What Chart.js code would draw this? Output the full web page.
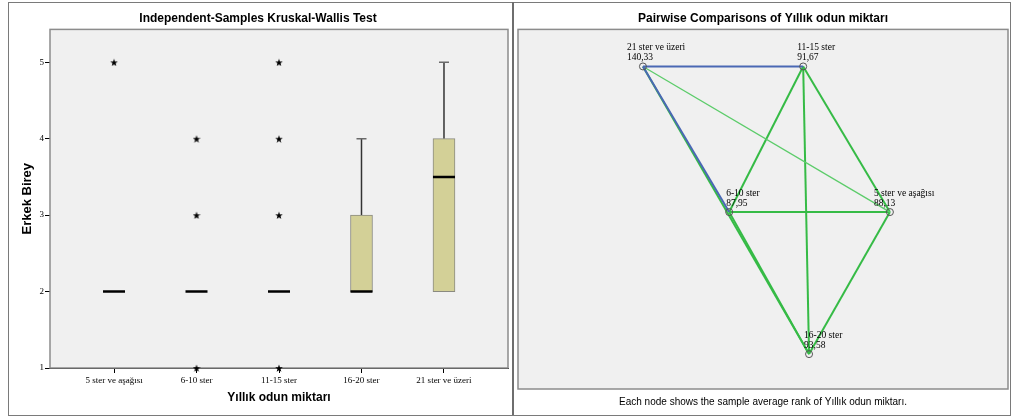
<!DOCTYPE html>
<html>
<head>
<meta charset="utf-8">
<title>Kruskal-Wallis</title>
<script src="https://cdn.jsdelivr.net/npm/chart.js"></script>
<style>
  body { margin: 0; background: #fff; }
  #wrap { position: relative; width: 1011px; height: 420px; overflow: hidden; }
  canvas { position: absolute; top: 0; }
  .frame { position: absolute; border: 1px solid #7a7a7a; pointer-events: none; }
  .divider { position: absolute; background: #6e6e6e; pointer-events: none; }
</style>
</head>
<body>
<div id="wrap">
  <canvas id="box" width="512" height="420" style="left:0"></canvas>
  <canvas id="pairs" width="499" height="420" style="left:512px"></canvas>
  <div class="frame" style="left:8px;top:2px;width:1001px;height:412px"></div>
  <div class="divider" style="left:512px;top:2px;width:2px;height:413px"></div>
</div>
<script>
// boxplot data (Erkek Birey by Yıllık odun miktarı)
const categories = ['5 ster ve aşağısı', '6-10 ster', '11-15 ster', '16-20 ster', '21 ster ve üzeri'];
const q1 = [2, 2, 2, 2, 2];
const q3 = [2, 2, 2, 3, 4];
const medians = [2, 2, 2, 2, 3.5];
const whiskerLow = [2, 2, 2, 2, 2];
const whiskerHigh = [2, 2, 2, 4, 5];
const outliers = [[5], [4, 3, 1], [5, 4, 3, 1], [], []];
const yTicks = [1, 2, 3, 4, 5];

// pairwise comparisons: nodes (layout in 0..100 units) and their mean ranks
const nodeNames = ['21 ster ve üzeri', '11-15 ster', '6-10 ster', '5 ster ve aşağısı', '16-20 ster'];
const meanRanks = [140.33, 91.67, 87.95, 88.13, 93.58];
const nodeX = [25.5, 58.2, 43.1, 75.9, 59.4];
const nodeY = [10.3, 10.3, 50.8, 50.8, 90.3];
const edgeFrom = [0, 0, 0, 1, 1, 1, 2, 2, 3, 0];
const edgeTo   = [3, 4, 1, 2, 3, 4, 3, 4, 4, 2];
const edgeKind = ['thin', 'green', 'blue', 'green', 'green', 'green', 'green', 'green', 'green', 'blue'];

// label shift (px) for node texts, style only
const labelShift = [-16, -6, -3, -16, -5];

const SERIF = '"Liberation Serif", "DejaVu Serif", serif';
const SANS = '"Liberation Sans", Arial, sans-serif';

function makeStar(size) {
  const c = document.createElement('canvas');
  c.width = c.height = size;
  const g = c.getContext('2d');
  g.beginPath();
  for (let k = 0; k < 10; k++) {
    const r = k % 2 ? size * 0.2 : size * 0.5;
    const a = -Math.PI / 2 + k * Math.PI / 5;
    g.lineTo(size / 2 + r * Math.cos(a), size / 2 + r * Math.sin(a) + 0.6);
  }
  g.closePath();
  g.fillStyle = '#000';
  g.fill();
  return c;
}

// plot background + gray frame
const plotBg = {
  id: 'plotBg',
  beforeDatasetsDraw(chart, args, opts) {
    const a = chart.chartArea, ctx = chart.ctx;
    ctx.save();
    ctx.fillStyle = '#f0f0f0';
    ctx.fillRect(a.left, a.top, a.right - a.left, a.bottom - a.top);
    ctx.strokeStyle = opts.stroke || '#8c8c8c';
    ctx.lineWidth = opts.width || 1.5;
    ctx.strokeRect(a.left, a.top, a.right - a.left, a.bottom - a.top);
    ctx.restore();
  }
};

// ---------- left: boxplot ----------
const boxData = [], whiskers = [], caps = [];
categories.forEach((c, i) => {
  if (q3[i] > q1[i]) boxData.push({ x: i + 1, y: [q1[i], q3[i]] });
  if (whiskerHigh[i] > q3[i]) {
    whiskers.push({ x: i + 1, y: q3[i] }, { x: i + 1, y: whiskerHigh[i] }, { x: i + 1, y: null });
    caps.push({ x: i + 1, y: whiskerHigh[i] });
  }
  if (whiskerLow[i] < q1[i]) {
    whiskers.push({ x: i + 1, y: q1[i] }, { x: i + 1, y: whiskerLow[i] }, { x: i + 1, y: null });
    caps.push({ x: i + 1, y: whiskerLow[i] });
  }
});
const outlierPts = [];
outliers.forEach((list, i) => list.forEach(v => outlierPts.push({ x: i + 1, y: v })));

new Chart(document.getElementById('box'), {
  type: 'bar',
  data: {
    datasets: [
      {
        type: 'line', data: whiskers, borderColor: '#333', borderWidth: 1.5,
        pointRadius: 0, spanGaps: false, order: 3
      },
      {
        type: 'bar', data: boxData, barThickness: 22, backgroundColor: '#d3d097',
        borderColor: '#8a8a80', borderWidth: 1, borderSkipped: false, order: 2
      },
      {
        type: 'scatter', data: caps, pointStyle: 'line', pointRadius: 5,
        borderColor: '#6a6a6a', borderWidth: 1.5, order: 1
      },
      {
        type: 'scatter', data: categories.map((c, i) => ({ x: i + 1, y: medians[i] })),
        pointStyle: 'line', pointRadius: 11, borderColor: '#000', borderWidth: 2.5, order: 0
      },
      {
        type: 'scatter', data: outlierPts, pointStyle: makeStar(8), clip: false, order: 0
      }
    ]
  },
  options: {
    responsive: false,
    animation: false,
    events: [],
    layout: { autoPadding: false, padding: { left: 8, right: 4, top: 0, bottom: 6 } },
    plugins: {
      legend: { display: false },
      tooltip: { enabled: false },
      plotBg: {},
      title: {
        display: true, text: 'Independent-Samples Kruskal-Wallis Test', color: '#000',
        font: { family: SANS, size: 12, weight: 'bold' }, padding: { top: 11, bottom: 4 }
      }
    },
    scales: {
      x: {
        type: 'linear', min: 0.224, max: 5.776, offset: false,
        afterBuildTicks: s => { s.ticks = categories.map((c, i) => ({ value: i + 1 })); },
        afterFit: s => { s.height = 46; s.paddingLeft = 0; s.paddingRight = 0; },
        ticks: {
          callback: v => categories[v - 1], color: '#000', padding: 2, maxRotation: 0, autoSkip: false,
          font: { family: SERIF, size: 9 }
        },
        grid: { drawOnChartArea: false, offset: false, tickLength: 5, color: '#000' },
        border: { color: '#000', width: 1 },
        title: {
          display: true, text: 'Yıllık odun miktarı', color: '#000',
          font: { family: SANS, size: 12, weight: 'bold' }, padding: { top: 0, bottom: 9 }
        }
      },
      y: {
        type: 'linear', min: 1, max: 5.43,
        afterBuildTicks: s => { s.ticks = yTicks.map(v => ({ value: v })); },
        afterFit: s => { s.width = 42; s.paddingTop = 0; s.paddingBottom = 0; },
        ticks: { color: '#000', padding: 1, font: { family: SERIF, size: 9 } },
        grid: { drawOnChartArea: false, tickLength: 5, color: '#000' },
        border: { color: '#000', width: 1 },
        title: {
          display: true, text: 'Erkek Birey', color: '#000',
          font: { family: SANS, size: 13, weight: 'bold' }, padding: { top: 12, bottom: 0 }
        }
      }
    }
  },
  plugins: [plotBg]
});

// ---------- right: pairwise comparisons ----------
const edgeStyle = {
  green: { color: '#36bb46', width: 2 },
  thin: { color: '#5ccc6a', width: 1.3 },
  blue: { color: '#4a68b4', width: 2 }
};
const edgeSets = edgeFrom.map((f, k) => {
  const st = edgeStyle[edgeKind[k]];
  return {
    type: 'line',
    data: [{ x: nodeX[f], y: nodeY[f] }, { x: nodeX[edgeTo[k]], y: nodeY[edgeTo[k]] }],
    borderColor: st.color, borderWidth: st.width, pointRadius: 0,
    order: edgeKind[k] === 'blue' ? 1 : 2
  };
});

const nodeLabels = {
  id: 'nodeLabels',
  afterDatasetsDraw(chart) {
    const ctx = chart.ctx, sx = chart.scales.x, sy = chart.scales.y;
    ctx.save();
    ctx.fillStyle = '#000';
    ctx.font = '9.5px ' + SERIF;
    ctx.textAlign = 'left';
    ctx.textBaseline = 'middle';
    nodeNames.forEach((n, i) => {
      const px = sx.getPixelForValue(nodeX[i]) + labelShift[i];
      const py = sy.getPixelForValue(nodeY[i]);
      ctx.fillText(n, px, py - 19);
      ctx.fillText(meanRanks[i].toFixed(2).replace('.', ','), px, py - 9);
    });
    ctx.restore();
  }
};

new Chart(document.getElementById('pairs'), {
  type: 'scatter',
  data: {
    datasets: edgeSets.concat([{
      type: 'scatter',
      data: nodeNames.map((n, i) => ({ x: nodeX[i], y: nodeY[i] })),
      pointStyle: 'circle', pointRadius: 3.5, borderColor: '#555',
      backgroundColor: 'rgba(0,0,0,0)', borderWidth: 1, order: 0
    }])
  },
  options: {
    responsive: false,
    animation: false,
    events: [],
    layout: { autoPadding: false, padding: { left: 6, right: 3, top: 0, bottom: 0 } },
    plugins: {
      legend: { display: false },
      tooltip: { enabled: false },
      plotBg: { stroke: '#8c8c8c', width: 1.5 },
      title: {
        display: true, text: 'Pairwise Comparisons of Yıllık odun miktarı', color: '#000',
        font: { family: SANS, size: 12, weight: 'bold' }, padding: { top: 11, bottom: 4 }
      },
      subtitle: {
        display: true, position: 'bottom', text: 'Each node shows the sample average rank of Yıllık odun miktarı.',
        color: '#000', font: { family: SANS, size: 10 }, padding: { top: 7, bottom: 12 }
      }
    },
    scales: {
      x: { type: 'linear', min: 0, max: 100, display: false },
      y: { type: 'linear', min: 0, max: 100, reverse: true, display: false }
    }
  },
  plugins: [plotBg, nodeLabels]
});
</script>
</body>
</html>
